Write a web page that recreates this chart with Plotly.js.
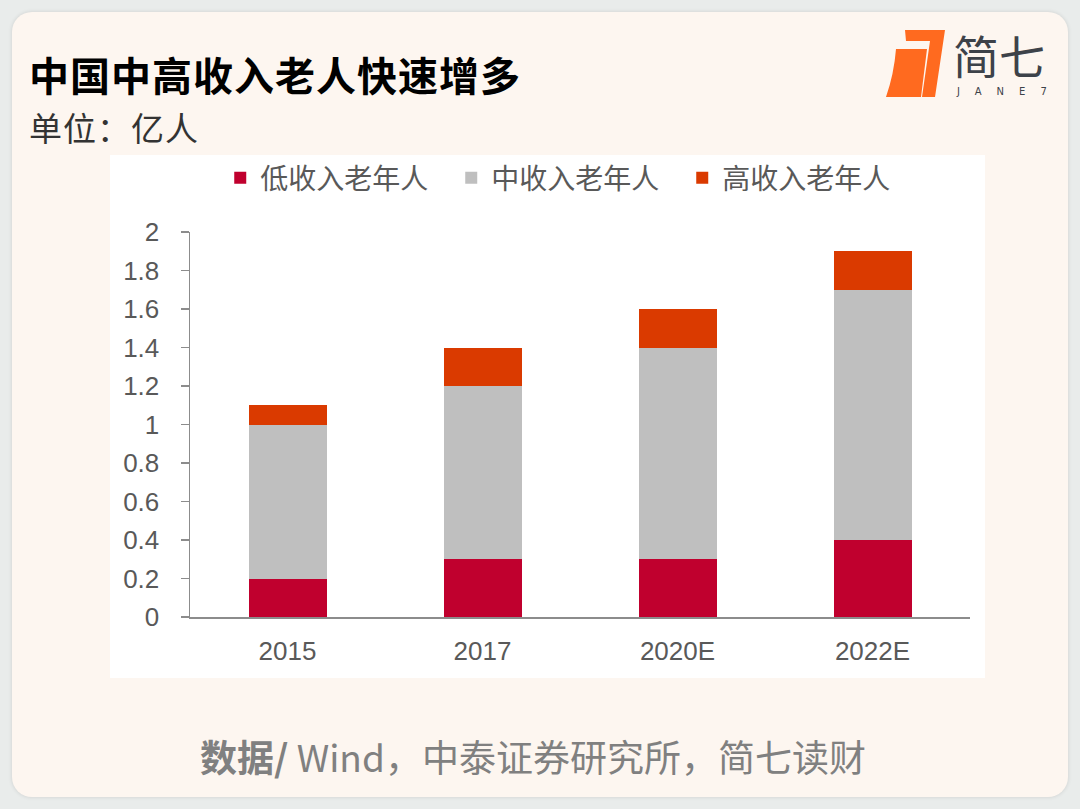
<!DOCTYPE html>
<html><head><meta charset="utf-8">
<script src="https://cdn.plot.ly/plotly-3.0.1.min.js"></script>
<style>
html,body{margin:0;padding:0;width:1080px;height:809px;background:#e9eceb;overflow:hidden;font-family:"Noto Sans CJK SC","Noto Sans",sans-serif;}
#card{position:absolute;left:12px;top:12px;width:1056px;height:785px;background:#fdf6f0;border-radius:20px;box-shadow:0 0 4px rgba(0,0,0,0.12);}
#title{position:absolute;left:29px;top:52px;font-size:40px;font-weight:bold;color:#000;line-height:44px;white-space:nowrap;letter-spacing:1px;}
#unit{position:absolute;left:29px;top:108px;font-size:33px;color:#333;line-height:38px;white-space:nowrap;letter-spacing:1px;}
#chart{position:absolute;left:110px;top:155px;width:875px;height:523px;background:#fff;}
#foot{position:absolute;left:0;width:1066px;top:731px;text-align:center;font-size:37px;color:#808080;line-height:50px;white-space:nowrap;}
#logo{position:absolute;left:884px;top:29px;width:70px;height:72px;}
#logoText{position:absolute;left:953px;top:32px;font-size:46px;color:#3d4249;line-height:44px;letter-spacing:0px;white-space:nowrap;}
#logoSub{position:absolute;left:957px;top:87px;font-size:10px;color:#3d4249;letter-spacing:15px;line-height:10px;font-family:"DejaVu Sans";white-space:nowrap;}
</style></head>
<body>
<div id="card"></div>
<div id="title">中国中高收入老人快速增多</div>
<div id="unit">单位：亿人</div>
<svg id="logo" viewBox="0 0 70 72"><path d="M21 1 L61 1 L51 68 L38 68 L46 12 L22 12 Z" fill="#ff6a1f"/><path d="M12 20 L43 20 L37 68 L2 68 Q10 45 12 20 Z" fill="#ff6a1f"/></svg>
<div id="logoText">简七</div>
<div id="logoSub">JANE7</div>
<div id="chart"></div>
<div id="foot"><b>数据/</b> Wind，中泰证券研究所，简七读财</div>
<script>
const categories = ['2015','2017','2020E','2022E'];
const lowIncome = [0.2, 0.3, 0.3, 0.4];
const midIncome = [0.8, 0.9, 1.1, 1.3];
const highIncome = [0.1, 0.2, 0.2, 0.2];
const seriesNames = ['低收入老年人','中收入老年人','高收入老年人'];
const colors = ['#c0002e','#bfbfbf','#da3a00'];
const data = [lowIncome, midIncome, highIncome].map((v,i)=>({
  type:'bar', x:categories, y:v, name:seriesNames[i],
  marker:{color:colors[i]}, width:0.4, hoverinfo:'none'
}));
const tickFont = {family:'Liberation Sans, Arial', size:26, color:'#595959'};
const layout = {
  width:875, height:523, barmode:'stack',
  paper_bgcolor:'#ffffff', plot_bgcolor:'#ffffff',
  margin:{l:80,r:15,t:77,b:61, autoexpand:false},
  showlegend:true,
  legend:{orientation:'h', x:0.483, xanchor:'center', y:1.14, yanchor:'middle',
    font:{family:'Noto Sans CJK SC', size:28, color:'#595959'}, traceorder:'normal', itemwidth:30,
    tracegroupgap:0, entrywidth:186, entrywidthmode:'pixels'},
  xaxis:{type:'category', showgrid:false, showline:true, linecolor:'#8c8c8c', linewidth:1.5,
    ticks:'', tickfont:tickFont, ticklabelstandoff:10},
  yaxis:{range:[0,2], dtick:0.2, showgrid:false, showline:true, linecolor:'#8c8c8c', linewidth:1.5,
    ticks:'outside', ticklen:8, tickcolor:'#8c8c8c', tickwidth:1.5, zeroline:false,
    tickfont:tickFont, tickformat:'~g', ticklabelstandoff:16},
  font:{family:'Liberation Sans, Arial'}
};
Plotly.newPlot('chart', data, layout, {displayModeBar:false, staticPlot:true});
</script>
</body></html>
